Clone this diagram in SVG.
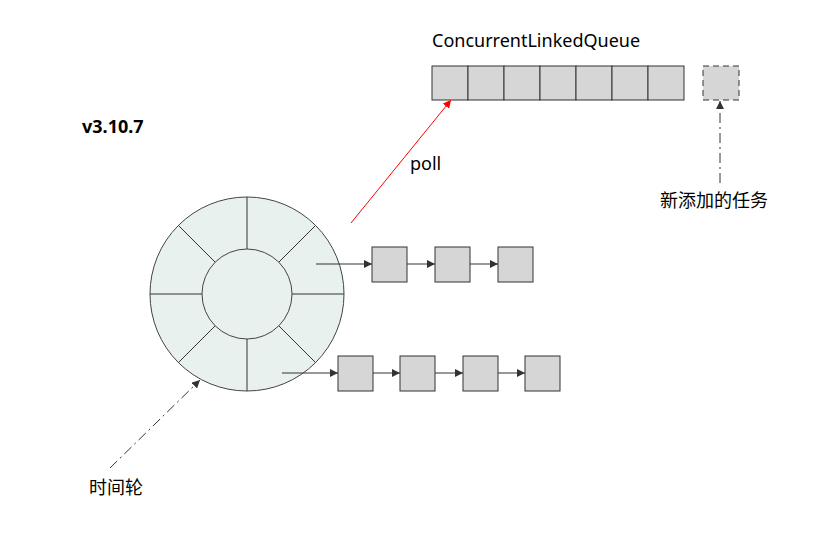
<svg xmlns="http://www.w3.org/2000/svg" width="828" height="536" viewBox="0 0 828 536">
<style>
.b{fill:#d6d6d6;stroke:#333;stroke-width:1}
.l{stroke:#333;stroke-width:1;fill:none}
.t{font-family:"Noto Sans","Noto Sans CJK SC",sans-serif;font-size:18px;fill:#000}
</style>
<defs>
<marker id="a" viewBox="0 0 10 10" refX="10" refY="5" markerWidth="8" markerHeight="8" orient="auto" markerUnits="userSpaceOnUse"><path d="M0,0L10,5L0,10z" fill="#333"/></marker>
<marker id="r" viewBox="0 0 10 10" refX="10" refY="5" markerWidth="8" markerHeight="8" orient="auto" markerUnits="userSpaceOnUse"><path d="M0,0L10,5L0,10z" fill="#f00"/></marker>
</defs>
<rect width="828" height="536" fill="#fff"/>
<text class="t" x="82" y="133" font-weight="bold">v3.10.7</text>
<text class="t" x="432" y="47">ConcurrentLinkedQueue</text>
<g id="queue">
<rect class="b" x="432" y="66" width="36" height="34"/><rect class="b" x="468" y="66" width="36" height="34"/><rect class="b" x="504" y="66" width="36" height="34"/><rect class="b" x="540" y="66" width="36" height="34"/><rect class="b" x="576" y="66" width="36" height="34"/><rect class="b" x="612" y="66" width="36" height="34"/><rect class="b" x="648" y="66" width="36" height="34"/>
</g>
<g id="newtask"><rect class="b" x="703" y="66" width="36" height="34" stroke-dasharray="6,4"/></g>
<g id="wheel">
<circle cx="247" cy="294" r="97" fill="#e8f1ee" stroke="#444"/>
<path class="l" d="M247,197V249M247,339V391M150,294H202M292,294H344M178.4,225.4L215.2,262.2M278.8,325.8L315.6,362.6M315.6,225.4L278.8,262.2M215.2,325.8L178.4,362.6"/>
<circle cx="247" cy="294" r="45" fill="#e8f1ee" stroke="#444"/>
</g>
<g id="list1"><rect class="b" x="372" y="247" width="35" height="35"/><rect class="b" x="435" y="247" width="35" height="35"/><rect class="b" x="498" y="247" width="35" height="35"/></g>
<g id="list2"><rect class="b" x="338" y="356" width="35" height="35"/><rect class="b" x="400" y="356" width="35" height="35"/><rect class="b" x="463" y="356" width="35" height="35"/><rect class="b" x="525" y="356" width="35" height="35"/></g>
<g id="connectors">
<path class="l" marker-end="url(#a)" d="M316,264H372"/>
<path class="l" marker-end="url(#a)" d="M407,264H435"/>
<path class="l" marker-end="url(#a)" d="M470,264H498"/>
<path class="l" marker-end="url(#a)" d="M282,373H338"/>
<path class="l" marker-end="url(#a)" d="M373,373H400"/>
<path class="l" marker-end="url(#a)" d="M435,373H463"/>
<path class="l" marker-end="url(#a)" d="M498,373H525"/>
<path stroke="#f00" fill="none" marker-end="url(#r)" d="M351,223L451,100"/>
<path class="l" stroke-dasharray="10,4,2,4" marker-end="url(#a)" d="M720,183V101"/>
<path class="l" stroke-dasharray="10,4,2,4" marker-end="url(#a)" d="M110,468L200,380"/>
</g>
<text class="t" x="410" y="170">poll</text>
<text class="t" x="660" y="207">新添加的任务</text>
<text class="t" x="89" y="494">时间轮</text>
</svg>
